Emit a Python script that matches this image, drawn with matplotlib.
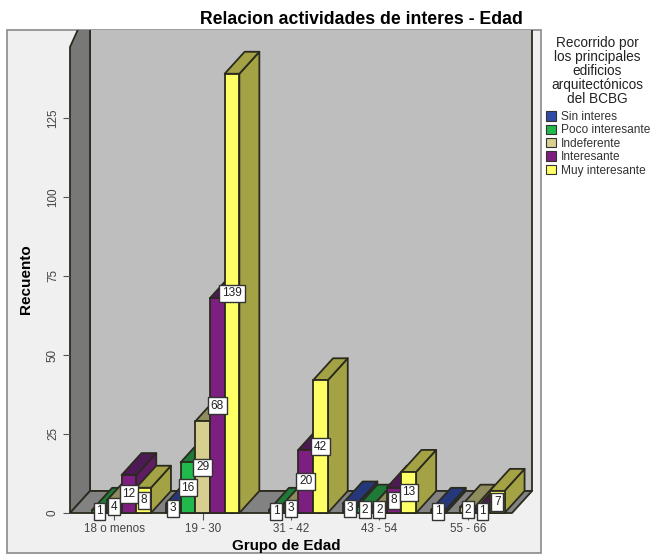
import matplotlib

matplotlib.use("Agg")
import matplotlib.pyplot as plt
import numpy as np
from matplotlib.patches import Patch, Polygon, Rectangle

plt.rcParams["font.family"] = ["Liberation Sans", "DejaVu Sans"]

W, H = 653, 555

groups = ["18 o menos", "19 - 30", "31 - 42", "43 - 54", "55 - 66"]
series = ["Sin interes", "Poco interesante", "Indeferente", "Interesante", "Muy interesante"]
sin_interes = [0, 3, 0, 3, 1]
poco = [1, 16, 1, 2, 0]
indiferente = [4, 29, 3, 2, 2]
interesante = [12, 68, 20, 8, 1]
muy = [8, 139, 42, 13, 7]
counts = [sin_interes, poco, indiferente, interesante, muy]
yticks = [0, 25, 50, 75, 100, 125]

# (front, top, side) shades per series
shades = [
    ("#2f4da6", "#26387c", "#2b3f88"),
    ("#21b84c", "#1f7a38", "#1f8a3e"),
    ("#d6cf90", "#8f8c5e", "#a5a26c"),
    ("#7d1f80", "#4e1a55", "#5f1c63"),
    ("#ffff66", "#a3a244", "#a3a244"),
]
EDGE = "#2a2a1e"


def fx(px):
    return px / W


def fy(py):
    return 1 - py / H


fig = plt.figure(figsize=(W / 100, H / 100), dpi=100, facecolor="white")

frame = Rectangle((fx(7), fy(553)), fx(534), fy(30) - fy(553), transform=fig.transFigure,
                  facecolor="#f0f0f0", edgecolor="#8a8a8a", linewidth=1.2, zorder=0)
fig.add_artist(frame)

# 0 sits at y=513px, about 3.16px per count
ymax = 466 / 3.16
ax = fig.add_axes([fx(70), fy(513), fx(442), fy(47) - fy(513)])
ax.set_xlim(0, len(groups))
ax.set_ylim(0, ymax)
ax.patch.set_visible(False)
for side in ax.spines.values():
    side.set_visible(False)

# oblique depth of the 3D box, in data units
ddx = 20 / (442 / len(groups))
ddy = 22 / 3.16
bar_w = 14.7 / (442 / len(groups))


def poly(points, color, z, lw=1.3):
    p = Polygon(points, closed=True, facecolor=color, edgecolor=EDGE, linewidth=lw,
                joinstyle="round", zorder=z, clip_on=True)
    ax.add_patch(p)
    p.set_clip_path(frame)
    return p


nx = len(groups)
top = ymax + 2 * ddy
poly([(ddx, ddy), (nx + ddx, ddy), (nx + ddx, top), (ddx, top)], "#bebebe", 1)
poly([(0, 0), (ddx, ddy), (ddx, top), (0, ymax)], "#787878", 1.1)
poly([(0, 0), (ddx, ddy), (nx + ddx, ddy), (nx, 0)], "#828282", 1.2)

z = 2.0
for g in range(nx):
    for s, vals in enumerate(counts):
        v = vals[g]
        if v == 0:
            continue
        x0 = g + 0.5 + (s - 2.5) * bar_w
        x1 = x0 + bar_w
        front, roof, flank = shades[s]
        poly([(x1, 0), (x1 + ddx, ddy), (x1 + ddx, v + ddy), (x1, v)], flank, z)
        poly([(x0, v), (x1, v), (x1 + ddx, v + ddy), (x0 + ddx, v + ddy)], roof, z + 0.01)
        poly([(x0, 0), (x1, 0), (x1, v), (x0, v)], front, z + 0.02)
        z += 0.1
        ax.text((x0 + x1) / 2, v / 2, str(v), ha="center", va="center", fontsize=8.6,
                color="#222222", zorder=20, clip_on=False,
                bbox=dict(boxstyle="square,pad=0.22", facecolor="white", edgecolor="#333333", linewidth=1.0))

ax.set_yticks(yticks)
ax.set_yticklabels(yticks, rotation=90, va="center", fontsize=8.4, color="#444444")
ax.set_xticks(np.arange(nx) + 0.5)
ax.set_xticklabels(groups, fontsize=8.4, color="#444444")
ax.tick_params(axis="y", length=5, width=0.8, color="#555555", pad=3)
ax.tick_params(axis="x", length=5, width=0.8, color="#555555", pad=2)

fig.text(fx(26), fy(279), "Recuento", rotation=90, ha="center", va="center", fontsize=11, fontweight="bold")
fig.text(fx(286), fy(546), "Grupo de Edad", ha="center", va="center", fontsize=10.9, fontweight="bold")
fig.text(fx(361), fy(19), "Relacion actividades de interes - Edad", ha="center", va="center",
         fontsize=12.7, fontweight="bold")

fig.text(fx(597), fy(71), "Recorrido por\nlos principales\nedificios\narquitectónicos\ndel BCBG",
         ha="center", va="center", multialignment="center", fontsize=9.8, linespacing=1.0, color="#222222")

handles = [Patch(facecolor=shades[i][0], edgecolor="#333333", linewidth=0.8, label=series[i]) for i in range(5)]
leg = fig.legend(handles=handles, loc="upper left", bbox_to_anchor=(fx(546), fy(111)), frameon=False,
                 fontsize=8.6, handlelength=0.84, handleheight=0.84,
                 handletextpad=0.4, labelspacing=0.12, borderpad=0, borderaxespad=0)
for t in leg.get_texts():
    t.set_color("#333333")

fig.savefig("out.png", dpi=100)
